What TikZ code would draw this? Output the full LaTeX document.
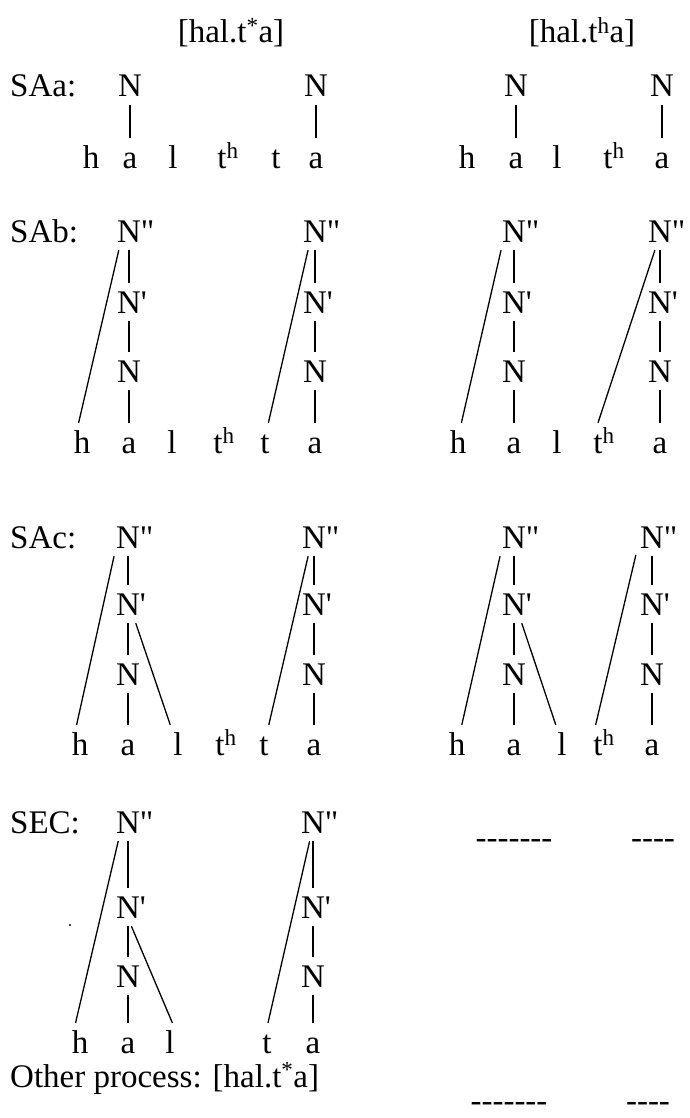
\documentclass[tikz,border=0pt]{standalone}
\usepackage{fontspec}
\newfontfamily\tms{Liberation Serif}
\begin{document}
\begin{tikzpicture}[x=1pt,y=-1pt,
  every node/.style={font=\tms\fontsize{33}{40}\selectfont, inner xsep=4pt, inner ysep=8pt, anchor=base},
  sym/.style={text height=22pt, text depth=0pt},
  ln/.style={line width=1.3pt}]
\useasboundingbox[fill=white] (0,0) rectangle (690,1118);

% headers
\node (hdL) at (231,43) {[hal.t\textsuperscript{*}a]};
\node (hdR) at (582,43) {[hal.t\textsuperscript{h}a]};

% row labels
\node[anchor=base west] (labA) at (6,97) {SAa:};
\node[anchor=base west] (labB) at (6,242) {SAb:};
\node[anchor=base west] (labC) at (6,548) {SAc:};
\node[anchor=base west] (labE) at (6,833) {SEC:};
\node[anchor=base west] (labO) at (6,1087) {Other process: [hal.t\textsuperscript{*}a]};

% ---------- SAa left ----------
\node[sym] (aL-N1) at (130,97) {N};
\node[sym] (aL-N2) at (316,97) {N};
\node[sym] (aL-h) at (91,168) {h};
\node[sym] (aL-a1) at (130,168) {a};
\node[sym] (aL-l) at (173,168) {l};
\node[sym] (aL-th) at (222,168) {t\rlap{\textsuperscript{h}}};
\node[sym] (aL-t) at (276,168) {t};
\node[sym] (aL-a2) at (316,168) {a};
\draw[ln] (aL-N1.south) -- (aL-a1.north);
\draw[ln] (aL-N2.south) -- (aL-a2.north);

% ---------- SAa right ----------
\node[sym] (aR-N1) at (516,97) {N};
\node[sym] (aR-N2) at (662,97) {N};
\node[sym] (aR-h) at (467,168) {h};
\node[sym] (aR-a1) at (516,168) {a};
\node[sym] (aR-l) at (557,168) {l};
\node[sym] (aR-th) at (608,168) {t\rlap{\textsuperscript{h}}};
\node[sym] (aR-a2) at (662,168) {a};
\draw[ln] (aR-N1.south) -- (aR-a1.north);
\draw[ln] (aR-N2.south) -- (aR-a2.north);

% ---------- SAb left ----------
\node[sym] (bL-N2) at (129,242) {N\rlap{"}};
\node[sym] (bL-N1) at (129,313) {N\rlap{'}};
\node[sym] (bL-N0) at (129,382) {N};
\node[sym] (bL-M2) at (315,242) {N\rlap{"}};
\node[sym] (bL-M1) at (315,313) {N\rlap{'}};
\node[sym] (bL-M0) at (315,382) {N};
\node[sym] (bL-h) at (82,453) {h};
\node[sym] (bL-a1) at (129,453) {a};
\node[sym] (bL-l) at (172,453) {l};
\node[sym] (bL-th) at (218,453) {t\rlap{\textsuperscript{h}}};
\node[sym] (bL-t) at (265,453) {t};
\node[sym] (bL-a2) at (315,453) {a};
\draw[ln] (bL-N2.south) -- (bL-N1.north);
\draw[ln] (bL-N1.south) -- (bL-N0.north);
\draw[ln] (bL-N0.south) -- (bL-a1.north);
\draw[ln] (bL-N2.-118) -- (bL-h.100);
\draw[ln] (bL-M2.south) -- (bL-M1.north);
\draw[ln] (bL-M1.south) -- (bL-M0.north);
\draw[ln] (bL-M0.south) -- (bL-a2.north);
\draw[ln] (bL-M2.-110) -- (bL-t.80);

% ---------- SAb right ----------
\node[sym] (bR-N2) at (514,242) {N\rlap{"}};
\node[sym] (bR-N1) at (514,313) {N\rlap{'}};
\node[sym] (bR-N0) at (514,382) {N};
\node[sym] (bR-M2) at (660,242) {N\rlap{"}};
\node[sym] (bR-M1) at (660,313) {N\rlap{'}};
\node[sym] (bR-M0) at (660,382) {N};
\node[sym] (bR-h) at (458,453) {h};
\node[sym] (bR-a1) at (514,453) {a};
\node[sym] (bR-l) at (557,453) {l};
\node[sym] (bR-th) at (598,453) {t\rlap{\textsuperscript{h}}};
\node[sym] (bR-a2) at (660,453) {a};
\draw[ln] (bR-N2.south) -- (bR-N1.north);
\draw[ln] (bR-N1.south) -- (bR-N0.north);
\draw[ln] (bR-N0.south) -- (bR-a1.north);
\draw[ln] (bR-N2.-124) -- (bR-h.80);
\draw[ln] (bR-M2.south) -- (bR-M1.north);
\draw[ln] (bR-M1.south) -- (bR-M0.north);
\draw[ln] (bR-M0.south) -- (bR-a2.north);
\draw[ln] (bR-M2.-105) -- (bR-th.north);

% ---------- SAc left ----------
\node[sym] (cL-N2) at (128,548) {N\rlap{"}};
\node[sym] (cL-N1) at (128,615) {N\rlap{'}};
\node[sym] (cL-N0) at (128,685) {N};
\node[sym] (cL-M2) at (314,548) {N\rlap{"}};
\node[sym] (cL-M1) at (314,615) {N\rlap{'}};
\node[sym] (cL-M0) at (314,685) {N};
\node[sym] (cL-h) at (80,755) {h};
\node[sym] (cL-a1) at (128,755) {a};
\node[sym] (cL-l) at (178,755) {l};
\node[sym] (cL-th) at (220,755) {t\rlap{\textsuperscript{h}}};
\node[sym] (cL-t) at (264,755) {t};
\node[sym] (cL-a2) at (314,755) {a};
\draw[ln] (cL-N2.south) -- (cL-N1.north);
\draw[ln] (cL-N1.south) -- (cL-N0.north);
\draw[ln] (cL-N0.south) -- (cL-a1.north);
\draw[ln] (cL-N2.-126) -- (cL-h.100);
\draw[ln] (cL-N1.-68) -- (cL-l.112);
\draw[ln] (cL-M2.south) -- (cL-M1.north);
\draw[ln] (cL-M1.south) -- (cL-M0.north);
\draw[ln] (cL-M0.south) -- (cL-a2.north);
\draw[ln] (cL-M2.-107) -- (cL-t.76);

% ---------- SAc right ----------
\node[sym] (cR-N2) at (514,548) {N\rlap{"}};
\node[sym] (cR-N1) at (514,615) {N\rlap{'}};
\node[sym] (cR-N0) at (514,685) {N};
\node[sym] (cR-M2) at (652,548) {N\rlap{"}};
\node[sym] (cR-M1) at (652,615) {N\rlap{'}};
\node[sym] (cR-M0) at (652,685) {N};
\node[sym] (cR-h) at (457,755) {h};
\node[sym] (cR-a1) at (514,755) {a};
\node[sym] (cR-l) at (562,755) {l};
\node[sym] (cR-th) at (598,755) {t\rlap{\textsuperscript{h}}};
\node[sym] (cR-a2) at (652,755) {a};
\draw[ln] (cR-N2.south) -- (cR-N1.north);
\draw[ln] (cR-N1.south) -- (cR-N0.north);
\draw[ln] (cR-N0.south) -- (cR-a1.north);
\draw[ln] (cR-N2.-126) -- (cR-h.76);
\draw[ln] (cR-N1.-68) -- (cR-l.108);
\draw[ln] (cR-M2.south) -- (cR-M1.north);
\draw[ln] (cR-M1.south) -- (cR-M0.north);
\draw[ln] (cR-M0.south) -- (cR-a2.north);
\draw[ln] (cR-M2.-132) -- (cR-th.97);

% ---------- SEC left ----------
\node[sym] (eL-N2) at (128,833) {N\rlap{"}};
\node[sym] (eL-N1) at (128,918) {N\rlap{'}};
\node[sym] (eL-N0) at (128,987) {N};
\node[sym] (eL-M2) at (313,833) {N\rlap{"}};
\node[sym] (eL-M1) at (313,918) {N\rlap{'}};
\node[sym] (eL-M0) at (313,987) {N};
\node[sym] (eL-h) at (80,1053) {h};
\node[sym] (eL-a1) at (128,1053) {a};
\node[sym] (eL-l) at (170,1053) {l};
\node[sym] (eL-t) at (267,1053) {t};
\node[sym] (eL-a2) at (313,1053) {a};
\draw[ln] (eL-N2.south) -- (eL-N1.north);
\draw[ln] (eL-N1.south) -- (eL-N0.north);
\draw[ln] (eL-N0.south) -- (eL-a1.north);
\draw[ln] (eL-N2.-117) -- (eL-h.103);
\draw[ln] (eL-N1.-80) -- (eL-l.83);
\draw[ln] (eL-M2.south) -- (eL-M1.north);
\draw[ln] (eL-M1.south) -- (eL-M0.north);
\draw[ln] (eL-M0.south) -- (eL-a2.north);
\draw[ln] (eL-M2.-100) -- (eL-t.87);
\fill (70,925) circle (1.2);

% ---------- dashes ----------
\node (dE1) at (514,848) {-------};
\node (dE2) at (653,848) {----};
\node (dO1) at (509,1111) {-------};
\node (dO2) at (648,1111) {----};
\end{tikzpicture}
\end{document}
